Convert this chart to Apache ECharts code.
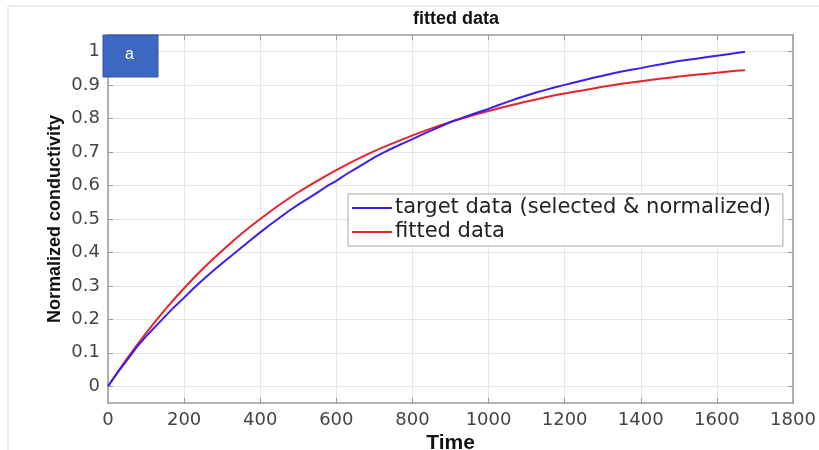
<!DOCTYPE html>
<html>
<head>
<meta charset="utf-8">
<script src="https://cdn.jsdelivr.net/npm/echarts@6/dist/echarts.min.js"></script>
<style>html,body{margin:0;padding:0;background:#fff}#c{width:819px;height:450px}</style>
</head>
<body>
<div id="c"></div>
<script>
// Data
var timeTarget = [0,25,50,75,100,125,150,175,200,225,250,275,300,325,350,375,400,425,450,475,500,525,550,575,600,625,650,675,700,725,750,775,800,825,850,875,900,925,950,975,1000,1025,1050,1075,1100,1125,1150,1175,1200,1225,1250,1275,1300,1325,1350,1375,1400,1425,1450,1475,1500,1525,1550,1575,1600,1625,1650,1674];
var targetData = [0,0.041,0.078,0.116,0.149,0.179,0.209,0.238,0.265,0.293,0.319,0.344,0.368,0.391,0.414,0.437,0.460,0.482,0.503,0.524,0.543,0.561,0.579,0.598,0.614,0.633,0.650,0.667,0.684,0.699,0.713,0.726,0.739,0.752,0.765,0.777,0.790,0.800,0.810,0.820,0.829,0.840,0.850,0.860,0.869,0.878,0.886,0.894,0.901,0.908,0.915,0.922,0.928,0.935,0.941,0.946,0.951,0.957,0.962,0.967,0.972,0.976,0.980,0.984,0.988,0.992,0.996,1.000];
var timeFit = [0,50,100,150,200,250,300,350,400,450,500,550,600,650,700,750,800,850,900,950,1000,1050,1100,1150,1200,1250,1300,1350,1400,1450,1500,1550,1600,1650,1674];
var fittedData = [0,0.083,0.159,0.229,0.293,0.352,0.405,0.455,0.500,0.542,0.580,0.614,0.646,0.676,0.703,0.727,0.750,0.771,0.790,0.807,0.823,0.838,0.851,0.864,0.875,0.885,0.895,0.904,0.912,0.919,0.926,0.932,0.937,0.943,0.945];
var yTicks = [0,0.1,0.2,0.3,0.4,0.5,0.6,0.7,0.8,0.9,1];
var seriesNames = ['target data (selected & normalized)', 'fitted data'];

function pairs(xs, ys){ return xs.map(function(x,i){ return [x, ys[i]]; }); }

var font = 'DejaVu Sans';
var axisCol = '#9a9a9a';
var chart = echarts.init(document.getElementById('c'), null, {renderer:'canvas'});
chart.setOption({
  backgroundColor:'#ffffff',
  animation:false,
  title:{text:'fitted data', left:451, top:5, textAlign:'center',
    textStyle:{fontFamily:'Liberation Sans', fontWeight:'bold', fontSize:18, color:'#111'}},
  grid:{left:108, right:26, top:35, bottom:47, containLabel:false, outerBoundsMode:'none'},
  legend:{orient:'vertical', left:348, top:194, itemWidth:40, itemHeight:2, itemGap:2,
    icon:'rect',
    padding:[3,12,3,4], borderColor:'#a8a8a8', borderWidth:1, backgroundColor:'#fff',
    textStyle:{fontFamily:font, fontSize:21, lineHeight:22, color:'#222', padding:[0,0,0,-2]},
    data:seriesNames},
  xAxis:[{
    type:'value', min:0, max:1800, interval:200, position:'bottom',
    name:'Time', nameLocation:'middle', nameGap:30, nameMoveOverlap:false,
    nameTextStyle:{fontFamily:'Liberation Sans', fontWeight:'bold', fontSize:21, color:'#111', verticalAlign:'top'},
    axisLine:{show:true, onZero:false, lineStyle:{color:axisCol, width:1.5}},
    axisTick:{show:true, inside:true, length:5, lineStyle:{color:axisCol}},
    axisLabel:{fontFamily:font, fontSize:18, color:'#444', margin:8,
      formatter:function(v){ return String(v); }},
    splitLine:{show:true, lineStyle:{color:'#e6e6e6', width:1}}
  },{
    type:'value', min:0, max:1800, interval:200, position:'top',
    axisLine:{show:true, onZero:false, lineStyle:{color:axisCol, width:1.5}},
    axisTick:{show:true, inside:true, length:5, lineStyle:{color:axisCol}},
    axisLabel:{show:false}, splitLine:{show:false}
  }],
  yAxis:[{
    type:'value', min:-0.05, max:1.05, position:'left',
    name:'Normalized conductivity', nameLocation:'middle', nameGap:44, nameRotate:90, nameMoveOverlap:false,
    nameTextStyle:{fontFamily:'Liberation Sans', fontWeight:'bold', fontSize:18, color:'#111'},
    axisLine:{show:true, onZero:false, lineStyle:{color:axisCol, width:1.5}},
    axisTick:{show:true, inside:true, length:5, lineStyle:{color:axisCol}, customValues:yTicks},
    axisLabel:{fontFamily:font, fontSize:18, color:'#444', margin:8, customValues:yTicks,
      formatter:function(v){ return String(Math.round(v*10)/10); }},
    splitLine:{show:true, lineStyle:{color:'#e6e6e6', width:1}}
  },{
    type:'value', min:-0.05, max:1.05, position:'right',
    axisLine:{show:true, onZero:false, lineStyle:{color:axisCol, width:1.5}},
    axisTick:{show:true, inside:true, length:5, lineStyle:{color:axisCol}, customValues:yTicks},
    axisLabel:{show:false}, splitLine:{show:false}
  }],
  series:[{
    name:seriesNames[0], type:'line', symbol:'none', xAxisIndex:0, yAxisIndex:0,
    data:pairs(timeTarget, targetData), lineStyle:{color:'#3c1ff0', width:2}, itemStyle:{color:'#3c1ff0'}, z:3
  },{
    name:seriesNames[1], type:'line', symbol:'none', smooth:0.3, xAxisIndex:0, yAxisIndex:0,
    data:pairs(timeFit, fittedData), lineStyle:{color:'#e8222e', width:2}, itemStyle:{color:'#e8222e'}, z:2
  }],
  graphic:[
    {type:'rect', shape:{x:8, y:6, width:820, height:460}, style:{fill:'none', stroke:'#dcdcdc', lineWidth:1}, silent:true, z:0},
    {type:'rect', shape:{x:103, y:35, width:55, height:42}, style:{fill:'#3d68c2', stroke:'#2f52a0', lineWidth:1}, z:100},
    {type:'text', x:125, y:47, style:{text:'a', fill:'#ffffff', fontSize:16, fontFamily:'Liberation Sans'}, z:101}
  ]
});
</script>
</body>
</html>
